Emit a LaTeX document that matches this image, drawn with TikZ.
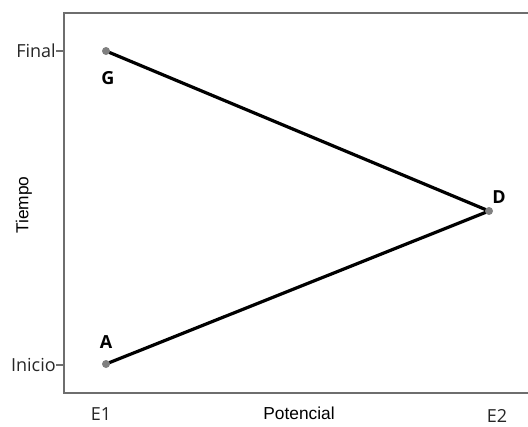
\documentclass[tikz,border=0pt]{standalone}
\usepackage{fontspec}
\setmainfont{Open Sans}
\newfontfamily\arialfont{Liberation Sans}
\usepackage{xcolor}
\definecolor{axisgray}{HTML}{6E6E6E}
\definecolor{dotgray}{HTML}{808080}

\begin{document}
\begin{tikzpicture}[x=0.75pt, y=-0.75pt,
    axis/.style={draw=axisgray, line width=1.5pt},
    ticklab/.style={font=\fontsize{13.5}{15}\selectfont, text=black!85, inner sep=0pt},
    title/.style={font=\arialfont\fontsize{13}{15}\selectfont, inner sep=0pt},
    ptlab/.style={font=\bfseries\fontsize{13.5}{15}\selectfont, inner sep=0pt},
    dot/.style={circle, fill=dotgray, inner sep=0pt, minimum size=6pt},
    branch/.style={line width=2.4pt, line cap=round}]
    \useasboundingbox (0,0) rectangle (528,426);

    % plot frame (open on the right)
    \coordinate (tr) at (530,13);
    \coordinate (tl) at (64,13);
    \coordinate (bl) at (64,393);
    \coordinate (br) at (530,393);
    \draw[axis] (tr) -- (tl) -- (bl) -- (br);

    % y ticks
    \node[ticklab, anchor=east] (final) at (56,51) {Final};
    \node[ticklab, anchor=east] (inicio) at (56,365) {Inicio};
    \coordinate (yfin) at (64,51);
    \coordinate (yini) at (64,365);
    \draw[axisgray, line width=0.8pt] (final.east) -- (yfin);
    \draw[axisgray, line width=0.8pt] (inicio.east) -- (yini);

    % x labels
    \node[ticklab] (e1) at (101,414) {E1};
    \node[ticklab] (e2) at (497,416) {E2};
    \node[title] (pot) at (299,413) {Potencial};
    \node[title, rotate=90] (tiempo) at (24,205) {Tiempo};

    % the two branches
    \coordinate (G) at (106,51);
    \coordinate (A) at (106,364);
    \coordinate (D) at (489,211);
    \draw[branch] (G) -- (D);
    \draw[branch] (A) -- (D);
    \node[dot] (gdot) at (G) {};
    \node[dot] (adot) at (A) {};
    \node[dot] (ddot) at (D) {};

    \node[ptlab] (glab) at (108,78) {G};
    \node[ptlab] (alab) at (106,342) {A};
    \node[ptlab] (dlab) at (499,197) {D};
\end{tikzpicture}
\end{document}
